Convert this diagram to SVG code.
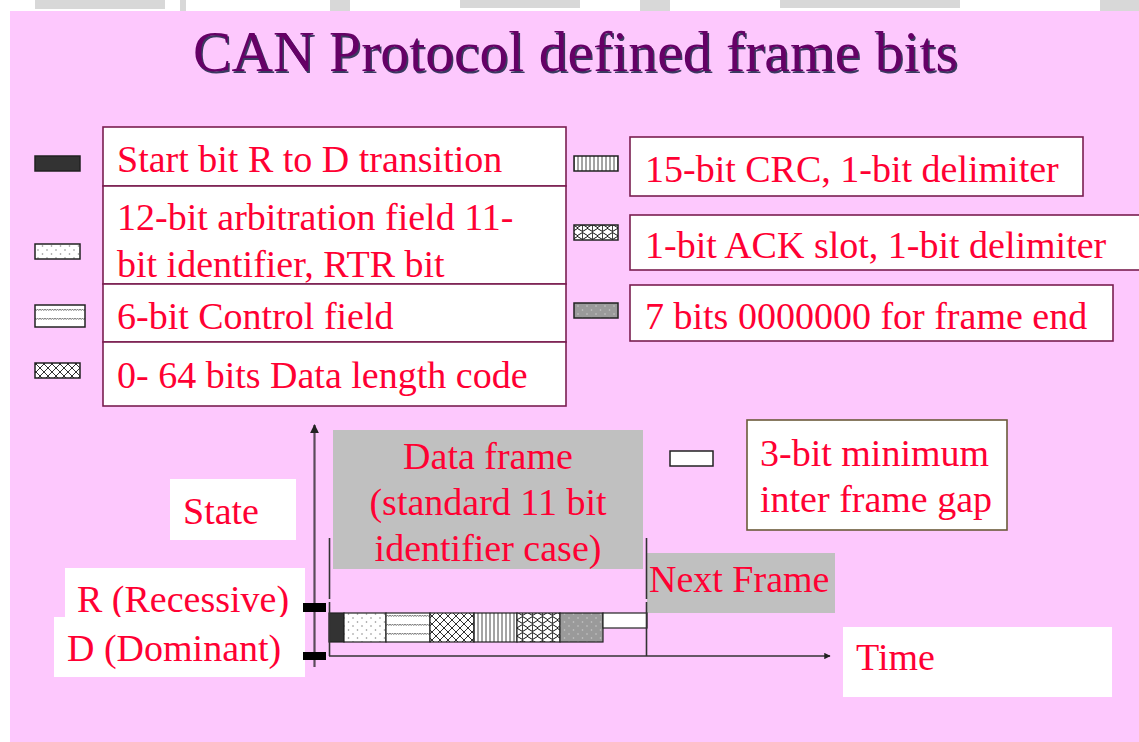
<svg xmlns="http://www.w3.org/2000/svg" width="1139" height="742" viewBox="0 0 1139 742">
  <defs>
    <!-- field fill patterns -->
    <pattern id="pDots" width="9" height="8" patternUnits="userSpaceOnUse">
      <rect width="9" height="8" fill="#FFFFFF"/>
      <circle cx="2" cy="2" r="0.8" fill="#8A8A8A"/>
      <circle cx="6.5" cy="6" r="0.8" fill="#8A8A8A"/>
    </pattern>
    <pattern id="pWave" width="5" height="9" patternUnits="userSpaceOnUse">
      <rect width="5" height="9" fill="#FFFFFF"/>
      <path d="M0,3 q1.25,3 2.5,0 q1.25,3 2.5,0" fill="none" stroke="#444444" stroke-width="0.7"/>
    </pattern>
    <pattern id="pCross" width="8" height="8" patternUnits="userSpaceOnUse">
      <rect width="8" height="8" fill="#FFFFFF"/>
      <path d="M0,0 L8,8 M8,0 L0,8 M-2,6 L2,10 M6,-2 L10,2 M-2,2 L2,-2 M6,10 L10,6" fill="none" stroke="#1A1A1A" stroke-width="0.9"/>
    </pattern>
    <pattern id="pVert" width="4" height="4" patternUnits="userSpaceOnUse">
      <rect width="4" height="4" fill="#FFFFFF"/>
      <line x1="2" y1="0" x2="2" y2="4" stroke="#333333" stroke-width="0.9"/>
    </pattern>
    <pattern id="pWeave" width="10" height="8" patternUnits="userSpaceOnUse">
      <rect width="10" height="8" fill="#FFFFFF"/>
      <path d="M0,2 q2.5,-3 5,0 t5,0 M0,6 q2.5,3 5,0 t5,0" fill="none" stroke="#111111" stroke-width="1"/>
      <path d="M2.5,0.5 L2.5,7.5 M7.5,3 L7.5,5" fill="none" stroke="#111111" stroke-width="0.8"/>
    </pattern>
    <pattern id="pGreyDots" width="9" height="8" patternUnits="userSpaceOnUse">
      <rect width="9" height="8" fill="#9A9A9A"/>
      <circle cx="2" cy="2" r="0.8" fill="#C8C8C8"/>
      <circle cx="6.5" cy="6" r="0.8" fill="#C8C8C8"/>
    </pattern>
    <marker id="arrow" viewBox="0 0 10 10" refX="9" refY="5" markerWidth="4" markerHeight="4" orient="auto">
      <path d="M0,0 L10,5 L0,10 Z" fill="#222222"/>
    </marker>
  </defs>

  <!-- page backdrop -->
  <rect x="0" y="0" width="1139" height="742" fill="#FFFFFF"/>
  <g id="top-band" fill="#D8D8D8">
    <rect x="35" y="0" width="130" height="9"/>
    <rect x="180" y="0" width="6" height="11"/>
    <rect x="330" y="0" width="20" height="11"/>
    <rect x="460" y="0" width="120" height="8"/>
    <rect x="640" y="0" width="30" height="11"/>
    <rect x="780" y="0" width="180" height="8"/>
    <rect x="1100" y="0" width="39" height="11"/>
  </g>
  <rect x="10" y="11" width="1129" height="731" fill="#FDC8FD"/>

  <!-- title with a slight drop shadow -->
  <g id="title" font-family="Liberation Serif" font-size="57">
    <text x="194.5" y="72.5" fill="#3A3A60" textLength="765" lengthAdjust="spacingAndGlyphs">CAN Protocol defined frame bits</text>
    <text x="193" y="71" fill="#660066" textLength="765" lengthAdjust="spacingAndGlyphs">CAN Protocol defined frame bits</text>
  </g>

  <!-- colour swatches (legend keys) -->
  <g id="swatches" stroke="#222222" stroke-width="1.5">
    <rect x="35" y="156" width="45" height="15" fill="#333333"/>
    <rect x="35" y="244" width="45" height="15" fill="url(#pDots)"/>
    <rect x="35" y="305" width="50" height="22" fill="url(#pWave)"/>
    <rect x="35" y="363" width="45" height="15" fill="url(#pCross)"/>
    <rect x="574" y="156" width="44" height="15" fill="url(#pVert)"/>
    <rect x="574" y="225" width="44" height="15" fill="url(#pWeave)"/>
    <rect x="574" y="303" width="44" height="15" fill="url(#pGreyDots)"/>
    <rect x="670" y="451" width="43" height="15" fill="#FFFFFF"/>
  </g>

  <!-- labelled boxes -->
  <g id="labels" font-family="Liberation Serif" font-size="38">
    <g id="legend-start">
      <rect x="103" y="127" width="463" height="59" fill="#FFFFFF" stroke="#7A1E50" stroke-width="1.6"/>
      <text x="117" y="172" fill="#FF0033">Start bit R to D transition</text>
    </g>
    <g id="legend-arbitration">
      <rect x="103" y="186" width="463" height="98" fill="#FFFFFF" stroke="#7A1E50" stroke-width="1.6"/>
      <text x="117" y="230" fill="#FF0033">12-bit arbitration field 11-</text>
      <text x="117" y="277" fill="#FF0033">bit identifier, RTR bit</text>
    </g>
    <g id="legend-control">
      <rect x="103" y="284" width="463" height="58" fill="#FFFFFF" stroke="#7A1E50" stroke-width="1.6"/>
      <text x="117" y="329" fill="#FF0033">6-bit Control field</text>
    </g>
    <g id="legend-data">
      <rect x="103" y="342" width="463" height="64" fill="#FFFFFF" stroke="#7A1E50" stroke-width="1.6"/>
      <text x="117" y="388" fill="#FF0033">0- 64 bits Data length code</text>
    </g>
    <g id="legend-crc">
      <rect x="630" y="137" width="453" height="59" fill="#FFFFFF" stroke="#7A1E50" stroke-width="1.6"/>
      <text x="645" y="182" fill="#FF0033">15-bit CRC, 1-bit delimiter</text>
    </g>
    <g id="legend-ack">
      <rect x="630" y="215" width="520" height="55" fill="#FFFFFF" stroke="#7A1E50" stroke-width="1.6"/>
      <text x="645" y="258" fill="#FF0033">1-bit ACK slot, 1-bit delimiter</text>
    </g>
    <g id="legend-eof">
      <rect x="630" y="285" width="483" height="56" fill="#FFFFFF" stroke="#7A1E50" stroke-width="1.6"/>
      <text x="645" y="329" fill="#FF0033">7 bits 0000000 for frame end</text>
    </g>
    <g id="data-frame-label">
      <rect x="333" y="430" width="310" height="139" fill="#C0C0C0"/>
      <text x="488" y="469" text-anchor="middle" fill="#FF0033">Data frame</text>
      <text x="488" y="515" text-anchor="middle" fill="#FF0033">(standard 11 bit</text>
      <text x="488" y="561" text-anchor="middle" fill="#FF0033">identifier case)</text>
    </g>
    <g id="next-frame-label">
      <rect x="647" y="553" width="188" height="60" fill="#C0C0C0"/>
      <text x="649" y="592" fill="#FF0033">Next Frame</text>
    </g>
    <g id="gap-legend">
      <rect x="747" y="420" width="260" height="110" fill="#FFFFFF" stroke="#6B5A3A" stroke-width="1.6"/>
      <text x="760" y="466" fill="#FF0033">3-bit minimum</text>
      <text x="760" y="512" fill="#FF0033">inter frame gap</text>
    </g>
    <g id="state-label">
      <rect x="170" y="479" width="126" height="61" fill="#FFFFFF"/>
      <text x="183" y="524" fill="#FF0033">State</text>
    </g>
    <g id="recessive-label">
      <rect x="65" y="568" width="240" height="50" fill="#FFFFFF"/>
      <text x="77" y="612" fill="#FF0033">R (Recessive)</text>
    </g>
    <g id="dominant-label">
      <rect x="54" y="617" width="251" height="60" fill="#FFFFFF"/>
      <text x="67" y="661" fill="#FF0033">D (Dominant)</text>
    </g>
    <g id="time-label">
      <rect x="843" y="627" width="269" height="70" fill="#FFFFFF"/>
      <text x="856" y="670" fill="#FF0033">Time</text>
    </g>
  </g>

  <!-- frame bit sequence -->
  <g id="frame-bar" stroke="#222222" stroke-width="1.2">
    <rect x="329" y="613" width="15" height="29" fill="#333333"/>
    <rect x="344" y="613" width="42" height="29" fill="url(#pDots)"/>
    <rect x="386" y="613" width="44" height="29" fill="url(#pWave)"/>
    <rect x="430" y="613" width="44" height="29" fill="url(#pCross)"/>
    <rect x="474" y="613" width="43" height="29" fill="url(#pVert)"/>
    <rect x="517" y="613" width="43" height="29" fill="url(#pWeave)"/>
    <rect x="560" y="613" width="43" height="29" fill="url(#pGreyDots)"/>
    <rect x="603" y="613" width="44" height="15" fill="#FFFFFF"/>
  </g>

  <!-- axes and frame boundaries -->
  <g id="connectors" fill="none">
    <line x1="314.5" y1="667" x2="314.5" y2="425" stroke="#5A4A5A" stroke-width="2.2" marker-end="url(#arrow)"/>
    <g stroke="#333333" stroke-width="1.6">
      <line x1="329" y1="656" x2="830" y2="656" marker-end="url(#arrow)"/>
      <line x1="329.5" y1="538" x2="329.5" y2="599"/>
      <line x1="329.5" y1="602" x2="329.5" y2="656"/>
      <line x1="646.5" y1="538" x2="646.5" y2="599"/>
      <line x1="646.5" y1="602" x2="646.5" y2="656"/>
    </g>
    <rect x="303" y="603" width="23" height="9" fill="#000000"/>
    <rect x="303" y="652" width="23" height="8" fill="#000000"/>
  </g>
</svg>
